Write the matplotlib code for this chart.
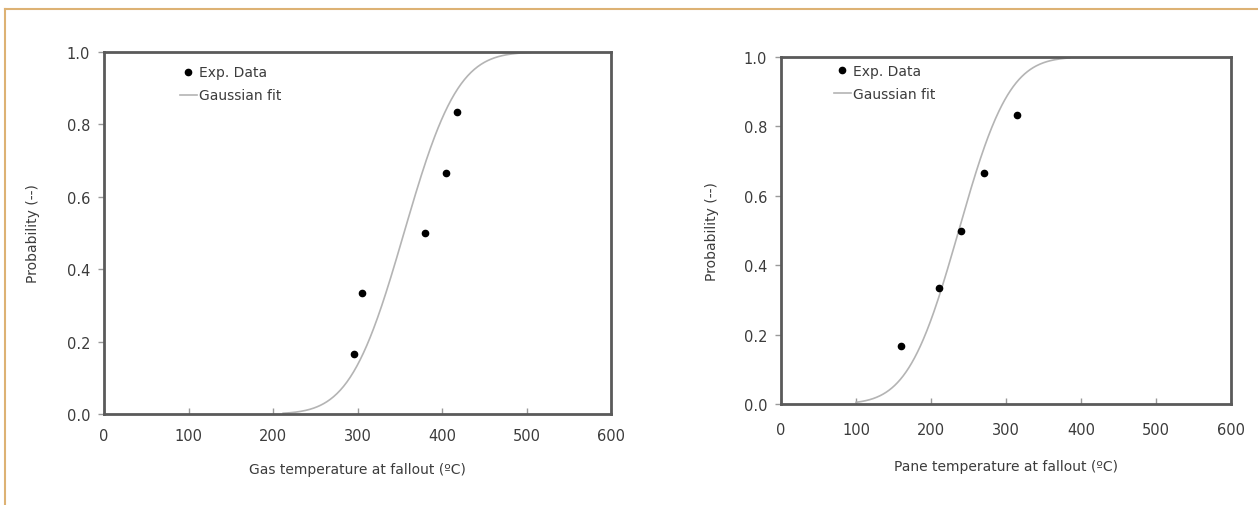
import math
import numpy as np
import matplotlib
matplotlib.use("Agg")
import matplotlib.pyplot as plt
from matplotlib.lines import Line2D

# ---- data ----
gas_temp = [296, 305, 380, 405, 418]
gas_prob = [1/6, 1/3, 0.5, 2/3, 5/6]
gas_fit_mu, gas_fit_sigma = 355, 50
gas_fit_range = (212, 505)

pane_temp = [160, 210, 240, 270, 315]
pane_prob = [1/6, 1/3, 0.5, 2/3, 5/6]
pane_fit_mu, pane_fit_sigma = 237, 53
pane_fit_range = (100, 385)

x_ticks = [0, 100, 200, 300, 400, 500, 600]
y_ticks = [0.0, 0.2, 0.4, 0.6, 0.8, 1.0]
y_label = "Probability (--)"
x_label_left = "Gas temperature at fallout (ºC)"
x_label_right = "Pane temperature at fallout (ºC)"
legend_labels = ["Exp. Data", "Gaussian fit"]

TXT = "#3c3c3c"
plt.rcParams['font.family'] = ['DejaVu Sans']

W, H = 1258, 506
fig = plt.figure(figsize=(W/100, H/100), dpi=100)
fig.patch.set_facecolor("white")


def px_axes(x0, y0, x1, y1):
    return fig.add_axes([x0/W, 1 - y1/H, (x1-x0)/W, (y1-y0)/H])


def normal_cdf(x, mu, s):
    return np.array([0.5*(1+math.erf((v-mu)/(s*math.sqrt(2)))) for v in x])


def draw(ax, tx, py, mu, sg, rng, xlabel, leg_anchor, xpad, ypad, xtickpad):
    xs = np.linspace(rng[0], rng[1], 300)
    ax.plot(tx, py, 'o', color='black', markersize=4.5, label=legend_labels[0], zorder=3)
    ax.plot(xs, normal_cdf(xs, mu, sg), color='#b4b4b4', lw=1.2, label=legend_labels[1], zorder=2)
    ax.set_xlim(0, 600)
    ax.set_ylim(0, 1.0)
    ax.set_xticks(x_ticks)
    ax.set_yticks(y_ticks)
    ax.set_xticklabels([str(t) for t in x_ticks])
    ax.set_yticklabels([f"{t:.1f}" for t in y_ticks])
    for s in ax.spines.values():
        s.set_color('#5a5a5a')
        s.set_linewidth(2)
    ax.tick_params(axis='x', direction='in', length=4, width=1, color='#9a9a9a',
                   labelsize=10.5, labelcolor=TXT, pad=xtickpad)
    ax.tick_params(axis='y', direction='out', length=4, width=1, color='#9a9a9a',
                   labelsize=10.5, labelcolor=TXT, pad=6)
    ax.set_xlabel(xlabel, fontsize=10, color=TXT, labelpad=xpad)
    ax.set_ylabel(y_label, fontsize=10, color=TXT, labelpad=ypad)
    ax.legend(loc='upper left', bbox_to_anchor=leg_anchor, frameon=False,
              fontsize=10, handlelength=1.2, handletextpad=0.15, labelspacing=0.65,
              borderpad=0, labelcolor=TXT)


ax1 = px_axes(104, 53, 611, 415)
draw(ax1, gas_temp, gas_prob, gas_fit_mu, gas_fit_sigma, gas_fit_range,
     x_label_left, (0.136, 0.982), 14, 19, 10)
ax2 = px_axes(781, 58, 1231, 405)
draw(ax2, pane_temp, pane_prob, pane_fit_mu, pane_fit_sigma, pane_fit_range,
     x_label_right, (0.102, 1.0), 16, 18, 13)

# orange frame lines
fig.add_artist(Line2D([5/W, 1.0], [1-10/H, 1-10/H], color='#ddb274', lw=1.5))
fig.add_artist(Line2D([5/W, 5/W], [0, 1-10/H], color='#ddb274', lw=1.5))

fig.savefig("out.png", dpi=100)
